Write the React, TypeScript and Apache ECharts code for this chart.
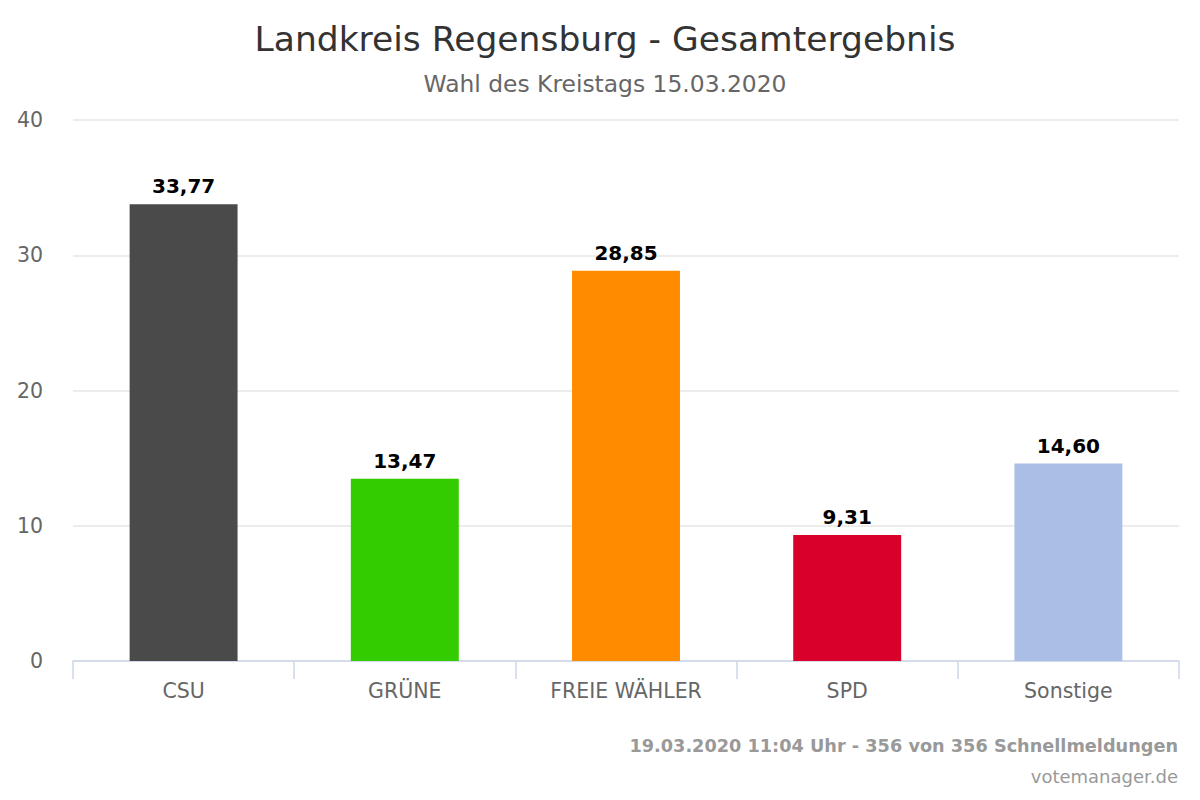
import React, { useEffect, useRef } from "react";
import * as echarts from "echarts";

const categories = ["CSU", "GRÜNE", "FREIE WÄHLER", "SPD", "Sonstige"];
const values = [33.77, 13.47, 28.85, 9.31, 14.6];
const colors = ["#4a4a4a", "#33cc00", "#ff8c00", "#d9002b", "#abbee6"];
const titleText = "Landkreis Regensburg - Gesamtergebnis";
const subtitleText = "Wahl des Kreistags 15.03.2020";
const footerLine1 = "19.03.2020 11:04 Uhr - 356 von 356 Schnellmeldungen";
const footerLine2 = "votemanager.de";

const FONT = "'DejaVu Sans', sans-serif";

export default function App() {
  const ref = useRef<HTMLDivElement>(null);
  useEffect(() => {
    document.body.style.margin = "0";
    const chart = echarts.init(ref.current!, null, { renderer: "svg" });
    chart.setOption({
      animation: false,
      backgroundColor: "#ffffff",
      textStyle: { fontFamily: FONT },
      title: [
        {
          text: titleText,
          left: 600,
          top: 16,
          textAlign: "center",
          textStyle: { fontFamily: FONT, fontSize: 34.5, fontWeight: "normal", color: "#333333" },
        },
        {
          text: subtitleText,
          left: 600,
          top: 67,
          textAlign: "center",
          textStyle: { fontFamily: FONT, fontSize: 23.4, fontWeight: "normal", color: "#666666" },
        },
      ],
      grid: { left: 73, right: 21, top: 120, bottom: 139, containLabel: false },
      xAxis: {
        type: "category",
        data: categories,
        axisLine: { lineStyle: { color: "#ccd6eb", width: 1.5 } },
        axisTick: { show: true, length: 18, lineStyle: { color: "#ccd6eb", width: 1.5 } },
        axisLabel: { color: "#666666", fontSize: 20.5, margin: 19, fontFamily: FONT },
      },
      yAxis: {
        type: "value",
        min: 0,
        max: 40,
        interval: 10,
        axisLine: { show: false },
        axisTick: { show: false },
        splitLine: { lineStyle: { color: "#e6e6e6", width: 1.5 } },
        axisLabel: { color: "#666666", fontSize: 20.5, margin: 30, fontFamily: FONT },
      },
      series: [
        {
          type: "bar",
          barWidth: "48.8%",
          data: values.map((v, i) => ({ value: v, itemStyle: { color: colors[i] } })),
          label: {
            show: true,
            position: "top",
            distance: 8,
            color: "#000000",
            fontSize: 20,
            fontWeight: "bold",
            fontFamily: FONT,
            formatter: (p: any) => p.value.toFixed(2).replace(".", ","),
          },
        },
      ],
      graphic: [
        {
          type: "text",
          right: 22,
          top: 737,
          style: { text: footerLine1, fill: "#999999", font: `bold 17.7px ${FONT}` },
        },
        {
          type: "text",
          right: 22,
          top: 767,
          style: { text: footerLine2, fill: "#999999", font: `18px ${FONT}` },
        },
      ],
    });
    return () => chart.dispose();
  }, []);
  return <div ref={ref} style={{ width: 1200, height: 800 }} />;
}
